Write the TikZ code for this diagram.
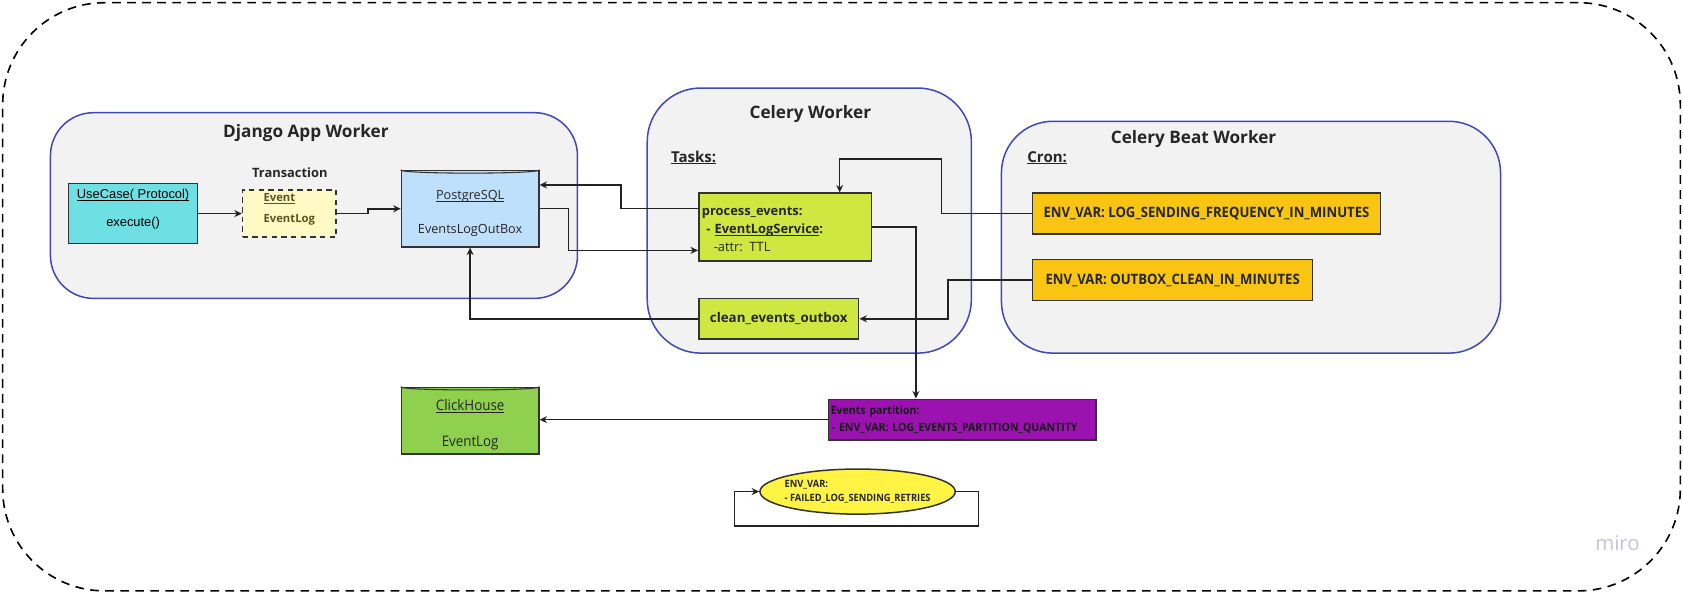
\documentclass[tikz,border=0pt]{standalone}
\usepackage{fontspec}
\setmainfont{Open Sans}
\newfontfamily\arialf{Liberation Sans}
\newfontfamily\condf[FakeStretch=0.92]{Open Sans}
\usetikzlibrary{arrows.meta,calc,shapes.geometric}
\newcommand\myul[1]{\underline{\smash{#1}}}
\definecolor{contblue}{HTML}{4149B8}
\definecolor{contgray}{HTML}{F2F2F2}
\definecolor{boxline}{HTML}{333333}
\definecolor{linec}{HTML}{222222}
\definecolor{ucfill}{HTML}{6EE0E3}
\definecolor{txfill}{HTML}{FFF9C6}
\definecolor{txtext}{HTML}{5A5420}
\definecolor{pgfill}{HTML}{BEE0FA}
\definecolor{taskfill}{HTML}{CFE741}
\definecolor{envfill}{HTML}{F9C512}
\definecolor{partfill}{HTML}{9B12B0}
\definecolor{chfill}{HTML}{8FD14F}
\definecolor{ellfill}{HTML}{FFF443}
\definecolor{mirogray}{HTML}{C4C6D8}
\tikzset{
  cont/.style={draw=contblue, fill=contgray, line width=1.4pt, inner sep=0pt},
  box/.style={draw=boxline, line width=1.4pt, inner sep=2pt},
  arr/.style={-{Stealth[length=7pt,width=6.5pt]}, line width=1.5pt, draw=linec},
  title/.style={font={\fontsize{16}{18}\selectfont\bfseries}, text=black!85},
  sub/.style={font={\fontsize{14}{16}\selectfont\bfseries}, text=black!85},
}
\begin{document}
\begin{tikzpicture}[x=1pt,y=-1pt]
\useasboundingbox (0,0) rectangle (1568,553);
\fill[white] (0,0) rectangle (1568,553);

% outer frame
\node[draw=black, line width=1.5pt, dash pattern=on 8pt off 6pt, rounded corners=95pt,
  minimum width=1563pt, minimum height=548pt, inner sep=0pt] (frame) at (784,276.5) {};

% containers
\node[cont, rounded corners=40pt, minimum width=491pt, minimum height=173pt] (dj) at (292.5,191.5) {};
\node[cont, rounded corners=50pt, minimum width=302pt, minimum height=247pt] (cw) at (754,205.5) {};
\node[cont, rounded corners=48pt, minimum width=465pt, minimum height=216pt] (cb) at (1165.5,221) {};

\node[title] (djt) at (285,124) {Django App Worker};
\node[title] (cwt) at (755,106) {Celery Worker};
\node[title] (cbt) at (1112,130) {Celery Beat Worker};
\node[sub, anchor=west, inner sep=0pt] (tasks) at (625,152) {\myul{Tasks:}};
\node[sub, anchor=west, inner sep=0pt] (cron) at (957,152) {\myul{Cron:}};
\node[font={\fontsize{12}{14}\selectfont\bfseries}, text=black!85] (txt) at (270,161) {Transaction};

% Django nodes
\node[box, fill=ucfill, minimum width=120pt, minimum height=56pt, align=center,
  font={\arialf\fontsize{12}{26}\selectfont}] (uc) at (124,199) {\myul{UseCase( Protocol)}\\execute()};
\node[box, fill=txfill, dashed, dash pattern=on 5pt off 4pt, minimum width=87pt, minimum height=44pt, align=left,
  text=txtext, font={\fontsize{10.5}{20}\selectfont\bfseries}] (tx) at (269.5,199) {\myul{Event}\\EventLog};
\node[box, fill=pgfill, minimum width=128pt, minimum height=71pt, align=center,
  font={\fontsize{11.8}{31}\selectfont}, text=black!85] (pg) at (438,194.5) {\rule{0pt}{17pt}\myul{PostgreSQL}\\EventsLogOutBox};
\draw[boxline, line width=1pt] (pg.north west) .. controls ($(pg.north west)+(0,4)$) and ($(pg.north east)+(0,4)$) .. (pg.north east);

% Celery worker tasks
\node[box, fill=taskfill, minimum width=161pt, minimum height=63pt, text width=155pt, inner xsep=3pt, align=left,
  font={\fontsize{12}{16.5}\selectfont}, text=black!85] (pe) at (731.5,211.5)
  {\rule{0pt}{12pt}\textbf{process\_events:}\\\hspace*{4pt}\textbf{- \myul{EventLogService}:}\\\hspace*{11pt}-attr: TTL};
\node[box, fill=taskfill, minimum width=149pt, minimum height=38pt,
  font={\fontsize{12.4}{14}\selectfont\bfseries}, text=black!85] (ceo) at (725.5,297) {clean\_events\_outbox};

% Beat env vars
\node[box, fill=envfill, minimum width=324pt, minimum height=38pt,
  font={\condf\fontsize{13.3}{15}\selectfont\bfseries}, text=black!85] (env1) at (1124,199) {ENV\_VAR: LOG\_SENDING\_FREQUENCY\_IN\_MINUTES};
\node[box, fill=envfill, minimum width=261pt, minimum height=38pt,
  font={\condf\fontsize{13.3}{15}\selectfont\bfseries}, text=black!85] (env2) at (1092.5,261) {ENV\_VAR: OUTBOX\_CLEAN\_IN\_MINUTES};

% lower nodes
\node[box, fill=partfill, minimum width=249pt, minimum height=38pt, text width=245pt, inner xsep=2pt, align=left,
  font={\condf\fontsize{10.7}{16}\selectfont\bfseries}, text=black!90] (part) at (896.5,391)
  {Events partition:\\\hspace*{1pt}- ENV\_VAR: LOG\_EVENTS\_PARTITION\_QUANTITY};
\node[box, fill=chfill, minimum width=128pt, minimum height=62pt, align=center,
  font={\condf\fontsize{13.5}{33}\selectfont}, text=black!85] (ch) at (438,392) {\rule{0pt}{18pt}\myul{ClickHouse}\\EventLog};
\draw[boxline, line width=1pt] (ch.north west) .. controls ($(ch.north west)+(0,4)$) and ($(ch.north east)+(0,4)$) .. (ch.north east);
\node[ellipse, draw=boxline, line width=1.4pt, fill=ellfill, minimum width=182pt, minimum height=42pt, inner sep=-8pt,
  align=left, font={\condf\fontsize{9.4}{13.5}\selectfont\bfseries}, text=black!85] (ell) at (799,458)
  {ENV\_VAR:\\- FAILED\_LOG\_SENDING\_RETRIES};

% connectors
\draw[arr] (uc.east) -- (tx.west);
\draw[arr] (tx.east) -- ++(29,0) |- (pg.west);
\draw[arr] ($(pe.north west)+(0,15)$) -- ++(-72,0) |- ($(pg.north east)+(0,14)$);
\draw[arr] ($(pg.north east)+(0,36)$) -- ++(27,0) |- ($(pe.north west)+(0,54)$);
\coordinate (petop) at ($(pe.north west)+(132,0)$);
\draw[arr] (env1.west) -- ++(-84,0) -- ++(0,-51) -| (petop);
\draw[arr] (pe.east) -| ($(part.north west)+(82,0)$);
\draw[arr] (env2.west) -- ++(-78,0) |- (ceo.east);
\draw[arr] (ceo.west) -| (pg.south);
\draw[arr] (part.west) -- (part.west -| ch.east);
\draw[arr] (ell.east) -- ++(21,0) -- ++(0,32) -| ($(ell.west)+(-23,0)$) -- (ell.west);

\node[text=mirogray, font={\fontsize{19}{20}\selectfont}] (miro) at (1507,506) {miro};
\end{tikzpicture}
\end{document}
